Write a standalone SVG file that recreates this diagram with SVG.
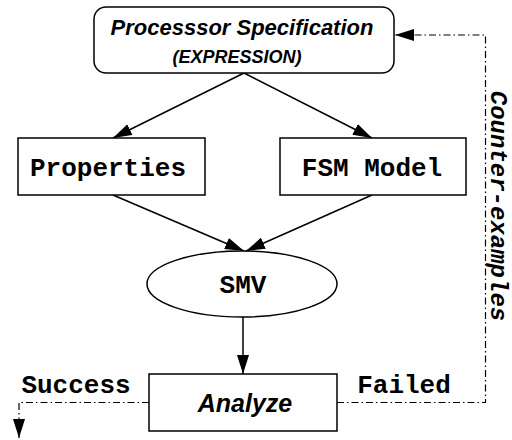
<svg xmlns="http://www.w3.org/2000/svg" width="512" height="440" viewBox="0 0 512 440">
<style>
.box{fill:#fff;stroke:#000;stroke-width:1.5}
.mono{font-family:"Liberation Mono","Courier New",monospace;font-weight:bold;fill:#000}
.sans{font-family:"Liberation Sans",Arial,sans-serif;font-weight:bold;font-style:italic;fill:#000}
.edge{fill:none;stroke:#000;stroke-width:1.5}
.dd{fill:none;stroke:#000;stroke-width:1.2;stroke-dasharray:7 3 1.5 3}
</style>
<defs>
<marker id="ah" markerUnits="userSpaceOnUse" markerWidth="20" markerHeight="14" refX="19" refY="6" orient="auto">
<path d="M0,0 L19,6 L0,12 z" fill="#000" stroke="none"/>
</marker>
</defs>
<rect width="512" height="440" fill="#fff"/>
<g id="connectors">
<line class="edge" x1="244" y1="73" x2="113" y2="138" marker-end="url(#ah)"/>
<line class="edge" x1="244" y1="73" x2="372" y2="138" marker-end="url(#ah)"/>
<line class="edge" x1="113" y1="195" x2="244" y2="251" marker-end="url(#ah)"/>
<line class="edge" x1="372" y1="195" x2="246" y2="251" marker-end="url(#ah)"/>
<line class="edge" x1="243" y1="317" x2="243" y2="374" marker-end="url(#ah)"/>
<polyline class="dd" points="149,402.5 19,402.5 19,438" marker-end="url(#ah)"/>
<polyline class="dd" points="337,402.5 485.5,402.5 485.5,35 395,35" marker-end="url(#ah)"/>
</g>
<g id="spec">
<rect class="box" x="94" y="7" width="300" height="66" rx="12"/>
<text class="sans" x="242" y="35" font-size="22" text-anchor="middle">Processsor Specification</text>
<text class="sans" x="237" y="63" font-size="18" text-anchor="middle">(EXPRESSION)</text>
</g>
<g id="properties">
<rect class="box" x="18" y="138" width="187" height="57"/>
<text class="mono" x="108" y="176" font-size="26" text-anchor="middle">Properties</text>
</g>
<g id="fsm">
<rect class="box" x="280" y="138" width="186" height="57"/>
<text class="mono" x="372" y="176" font-size="26" text-anchor="middle">FSM Model</text>
</g>
<g id="smv">
<ellipse class="box" cx="242" cy="284" rx="95" ry="33"/>
<text class="mono" x="243" y="293" font-size="26" text-anchor="middle">SMV</text>
</g>
<g id="analyze">
<rect class="box" x="149" y="374" width="188" height="57"/>
<text class="sans" x="245" y="412" font-size="25" text-anchor="middle">Analyze</text>
</g>
<g id="labels">
<text class="mono" x="76" y="393" font-size="26" text-anchor="middle">Success</text>
<text class="mono" x="404" y="393" font-size="26" text-anchor="middle">Failed</text>
<text class="mono" font-size="24" font-style="italic" text-anchor="middle" transform="translate(491,206) rotate(90)">Counter-examples</text>
</g>
</svg>
